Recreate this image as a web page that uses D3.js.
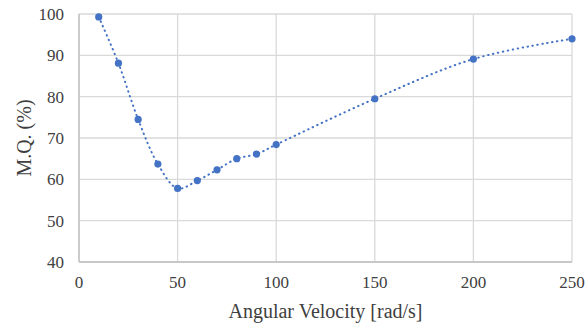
<!DOCTYPE html>
<html lang="en">
<head>
<meta charset="UTF-8">
<title>M.Q. vs Angular Velocity</title>
<style>
  body { margin: 0; background: #fff; }
</style>
</head>
<body>
<div id="workspace"></div>
<script src="https://cdn.jsdelivr.net/npm/d3@7"></script>
<script>
  // data
  const velocity = [10, 20, 30, 40, 50, 60, 70, 80, 90, 100, 150, 200, 250];
  const mq = [99.3, 88.1, 74.5, 63.7, 57.8, 59.7, 62.3, 65.0, 66.1, 68.4, 79.5, 89.1, 94.0];
  const xTicks = [0, 50, 100, 150, 200, 250];
  const yTicks = [40, 50, 60, 70, 80, 90, 100];

  const width = 586, height = 325;
  const margin = { top: 14, right: 14, bottom: 63, left: 79 };
  const font = "'Liberation Serif', 'DejaVu Serif', serif";

  const svg = d3.select("#workspace").append("svg")
    .attr("width", width)
    .attr("height", height)
    .attr("font-family", font);

  const x = d3.scaleLinear().domain([0, 250]).range([margin.left, width - margin.right]);
  const y = d3.scaleLinear().domain([40, 100]).range([height - margin.bottom, margin.top]);

  // grid
  svg.append("g").selectAll("line")
    .data(yTicks)
    .enter().append("line")
    .attr("x1", x(0)).attr("x2", x(250))
    .attr("y1", d => y(d)).attr("y2", d => y(d))
    .attr("stroke", "#d9d9d9").attr("stroke-width", 1.3);
  svg.append("g").selectAll("line")
    .data(xTicks)
    .enter().append("line")
    .attr("x1", d => x(d)).attr("x2", d => x(d))
    .attr("y1", y(40)).attr("y2", y(100))
    .attr("stroke", "#d9d9d9").attr("stroke-width", 1.3);

  // axes lines
  svg.append("line")
    .attr("x1", x(0)).attr("x2", x(0)).attr("y1", y(40)).attr("y2", y(100))
    .attr("stroke", "#bfbfbf").attr("stroke-width", 1.3);
  svg.append("line")
    .attr("x1", x(0)).attr("x2", x(250)).attr("y1", y(40)).attr("y2", y(40))
    .attr("stroke", "#bfbfbf").attr("stroke-width", 1.3);

  // tick labels
  svg.append("g").selectAll("text")
    .data(yTicks)
    .enter().append("text")
    .attr("x", x(0) - 15)
    .attr("y", d => y(d))
    .attr("dy", "0.35em")
    .attr("text-anchor", "end")
    .attr("font-size", 17)
    .attr("fill", "#404040")
    .text(d => d);
  svg.append("g").selectAll("text")
    .data(xTicks)
    .enter().append("text")
    .attr("x", d => x(d))
    .attr("y", y(40) + 26)
    .attr("text-anchor", "middle")
    .attr("font-size", 17)
    .attr("fill", "#404040")
    .text(d => d);

  // axis titles
  svg.append("text")
    .attr("x", (x(0) + x(250)) / 2)
    .attr("y", height - 7)
    .attr("text-anchor", "middle")
    .attr("font-size", 20)
    .attr("fill", "#404040")
    .text("Angular Velocity [rad/s]");
  svg.append("text")
    .attr("transform", "translate(31," + (y(40) + y(100)) / 2 + ") rotate(-90)")
    .attr("text-anchor", "middle")
    .attr("font-size", 20)
    .attr("fill", "#404040")
    .text("M.Q. (%)");

  const points = velocity.map((v, i) => [v, mq[i]]);

  const line = d3.line()
    .x(d => x(d[0]))
    .y(d => y(d[1]))
    .curve(d3.curveCatmullRom.alpha(0.5));

  svg.append("path")
    .attr("d", line(points))
    .attr("fill", "none")
    .attr("stroke", "#4472c4")
    .attr("stroke-width", 2)
    .attr("stroke-linecap", "round")
    .attr("stroke-dasharray", "0.5,4.5");

  svg.append("g").selectAll("circle")
    .data(points)
    .enter().append("circle")
    .attr("cx", d => x(d[0]))
    .attr("cy", d => y(d[1]))
    .attr("r", 3.6)
    .attr("fill", "#4472c4");
</script>
</body>
</html>
